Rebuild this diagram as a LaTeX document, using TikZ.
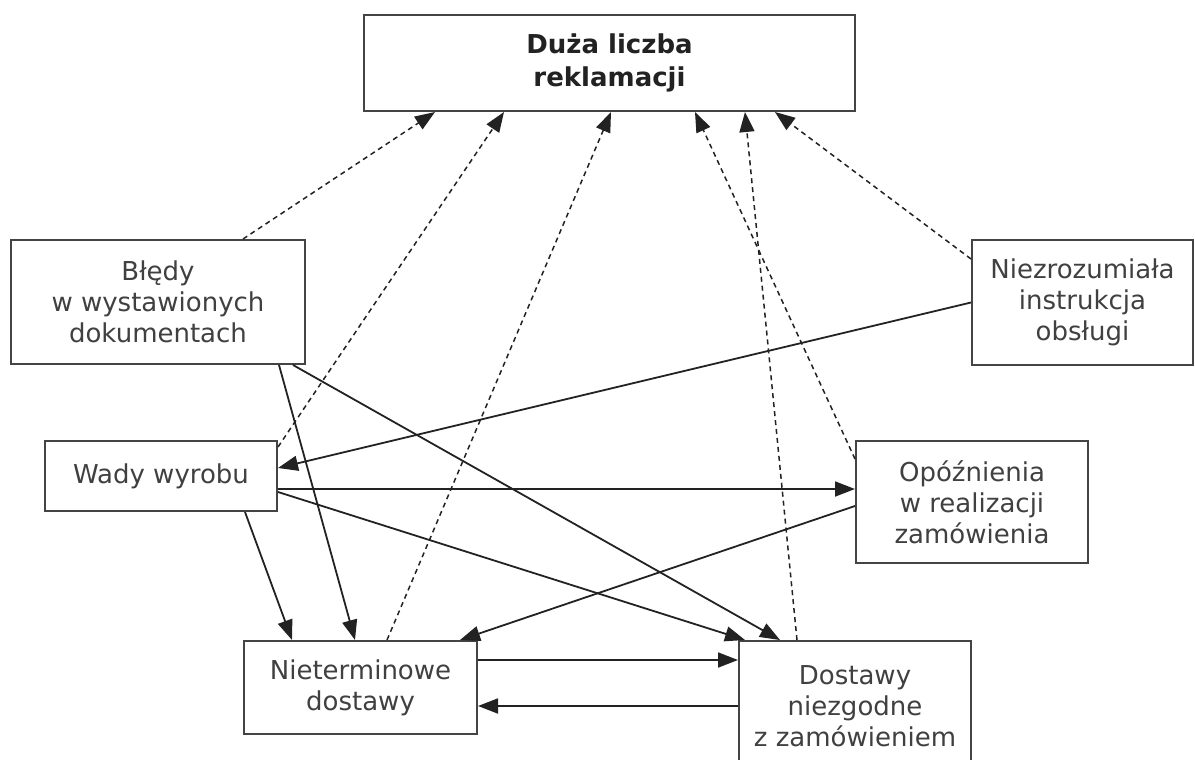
\documentclass[tikz,border=0pt]{standalone}
\usepackage{fontspec}
\setmainfont{DejaVu Sans}
\usetikzlibrary{arrows.meta}
\definecolor{txt}{HTML}{404040}
\definecolor{edge}{HTML}{222222}
\definecolor{frame}{HTML}{444444}
\tikzset{
  box/.style={draw=frame, line width=2pt, fill=white, align=center, text=txt,
    font=\fontsize{26}{31}\selectfont, inner sep=0pt},
  link/.style={draw=edge, line width=1.8pt, -{Triangle[length=20pt,width=15pt]}},
  weak/.style={draw=edge, line width=1.5pt, dash pattern=on 5pt off 4pt,
    -{Triangle[length=20pt,width=15pt]}},
}
\begin{document}
\begin{tikzpicture}[x=1pt,y=-1pt]
\useasboundingbox (0,0) rectangle (1195,760);

% problem boxes
\node[box, minimum width=491pt, minimum height=96pt, text=edge,
      font=\fontsize{26}{33}\selectfont\bfseries] (top) at (609.5,63)
      {Duża liczba\\reklamacji};
\node[box, minimum width=294pt, minimum height=124pt] (bledy) at (158,302)
      {Błędy\\w wystawionych\\dokumentach};
\node[box, minimum width=221pt, minimum height=125pt] (niez) at (1082.5,302.5)
      {Niezrozumiała\\instrukcja\\obsługi};
\node[box, minimum width=232pt, minimum height=70pt] (wady) at (161,476)
      {Wady wyrobu};
\node[box, minimum width=232pt, minimum height=122pt] (opoz) at (972,502)
      {Opóźnienia\\w realizacji\\zamówienia};
\node[box, minimum width=233pt, minimum height=93pt] (niet) at (360.5,687.5)
      {Nieterminowe\\dostawy};
\node[box, minimum width=232pt, minimum height=130pt] (dost) at (855,706)
      {Dostawy\\niezgodne\\z zamówieniem};

% indirect influences on the number of complaints
\draw[weak] ([xshift=85pt]bledy.north) -- ([xshift=-174.5pt]top.south);
\draw[weak] ([yshift=-7pt]wady.north east) -- ([xshift=-105.5pt]top.south);
\draw[weak] ([xshift=26.5pt]niet.north) -- ([xshift=1.5pt]top.south);
\draw[weak] ([yshift=-19pt]opoz.north west) -- ([xshift=85.5pt]top.south);
\draw[weak] ([xshift=-58pt]dost.north) -- ([xshift=135.5pt]top.south);
\draw[weak] ([yshift=-20pt]niez.north west) -- ([xshift=165.5pt]top.south);

% direct cause and effect links
\draw[link] ([xshift=121pt]bledy.south) -- ([xshift=-5.5pt]niet.north);
\draw[link] ([xshift=135pt]bledy.south) -- ([xshift=-75pt]dost.north);
\draw[link] ([xshift=84pt]wady.south) -- ([xshift=-68.5pt]niet.north);
\draw[link] ([yshift=-13pt]wady.east) -- ([yshift=13pt]opoz.west);
\draw[link] ([yshift=-16pt]wady.east) -- ([xshift=-110pt]dost.north);
\draw[link] (niez.west) -- ([yshift=8pt]wady.east);
\draw[link] ([yshift=-4pt]opoz.west) -- ([xshift=99.5pt]niet.north);
\draw[link] ([yshift=-20pt]niet.north east) -- ([yshift=-20pt]dost.north west);
\draw[link] ([yshift=-66pt]dost.north west) -- ([yshift=-66pt]niet.north east);
\end{tikzpicture}
\end{document}
